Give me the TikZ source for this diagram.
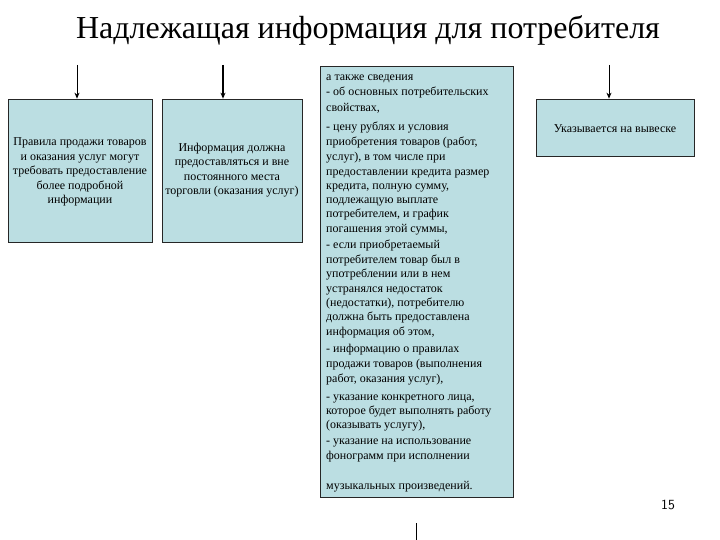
\documentclass[tikz,border=0pt]{standalone}
\usepackage{fontspec}
\setmainfont{Liberation Serif}
\usetikzlibrary{arrows.meta}
\definecolor{boxfill}{RGB}{187,222,226}
\tikzset{
  infobox/.style={draw=black!85, line width=0.7pt, fill=boxfill, inner sep=0pt},
  boxtext/.style={align=center, font=\fontsize{12}{14.5}\selectfont, inner sep=0pt},
  linetext/.style={anchor=base west, font=\fontsize{12}{13}\selectfont, inner sep=0pt},
  feed/.style={-{Stealth[length=6pt,width=5pt]}, line width=0.8pt}
}
\begin{document}
\begin{tikzpicture}[x=1pt,y=-1pt]
\useasboundingbox (0,0) rectangle (720,540);
\node[font=\fontsize{32}{36}\selectfont] (title) at (368,30) {Надлежащая информация для потребителя};

\node[infobox, minimum width=144pt, minimum height=143pt] (b1) at (80,170.5) {};
\node[infobox, minimum width=140pt, minimum height=143pt] (b2) at (232,170.5) {};
\node[infobox, minimum width=193pt, minimum height=431pt] (b3) at (416.5,281.5) {};
\node[infobox, minimum width=158pt, minimum height=57pt] (b4) at (615,127.5) {};

\node[boxtext] (t1) at (80,172) {Правила продажи товаров\\и оказания услуг могут\\требовать предоставление\\более подробной\\информации};
\node[boxtext] (t2) at (232,170) {Информация должна\\предоставляться и вне\\постоянного места\\торговли (оказания услуг)};
\node[boxtext] (t4) at (615,129) {Указывается на вывеске};

\node[linetext] (l1) at (326,81) {а также сведения};
\node[linetext] (l2) at (326,96) {- об основных потребительских};
\node[linetext] (l3) at (326,112) {свойствах,};
\node[linetext] (l4) at (326,131) {- цену рублях и условия};
\node[linetext] (l5) at (326,146) {приобретения товаров (работ,};
\node[linetext] (l6) at (326,161) {услуг), в том числе при};
\node[linetext] (l7) at (326,176) {предоставлении кредита размер};
\node[linetext] (l8) at (326,190) {кредита, полную сумму,};
\node[linetext] (l9) at (326,204) {подлежащую выплате};
\node[linetext] (l10) at (326,218) {потребителем, и график};
\node[linetext] (l11) at (326,233) {погашения этой суммы,};
\node[linetext] (l12) at (326,248) {- если приобретаемый};
\node[linetext] (l13) at (326,263) {потребителем товар был в};
\node[linetext] (l14) at (326,277) {употреблении или в нем};
\node[linetext] (l15) at (326,292) {устранялся недостаток};
\node[linetext] (l16) at (326,306) {(недостатки), потребителю};
\node[linetext] (l17) at (326,320) {должна быть предоставлена};
\node[linetext] (l18) at (326,335) {информация об этом,};
\node[linetext] (l19) at (326,352) {- информацию о правилах};
\node[linetext] (l20) at (326,367) {продажи товаров (выполнения};
\node[linetext] (l21) at (326,382) {работ, оказания услуг),};
\node[linetext] (l22) at (326,400) {- указание конкретного лица,};
\node[linetext] (l23) at (326,414) {которое будет выполнять работу};
\node[linetext] (l24) at (326,428) {(оказывать услугу),};
\node[linetext] (l25) at (326,444) {- указание на использование};
\node[linetext] (l26) at (326,459) {фонограмм при исполнении};
\node[linetext] (l27) at (326,489) {музыкальных произведений.};

\coordinate (s1) at (77,65);
\coordinate (s2) at (223,65);
\coordinate (s4) at (609,65);
\draw[feed] (s1) -- (s1 |- b1.north);
\draw[feed, line width=1.3pt] (s2) -- (s2 |- b2.north);
\draw[feed] (s4) -- (s4 |- b4.north);

\coordinate (m1) at (416,523);
\coordinate (m2) at (416,540);
\draw[line width=0.8pt] (m1) -- (m2);

\node[font=\fontsize{14}{16}\selectfont\sffamily] (page) at (668,505) {15};
\end{tikzpicture}
\end{document}
